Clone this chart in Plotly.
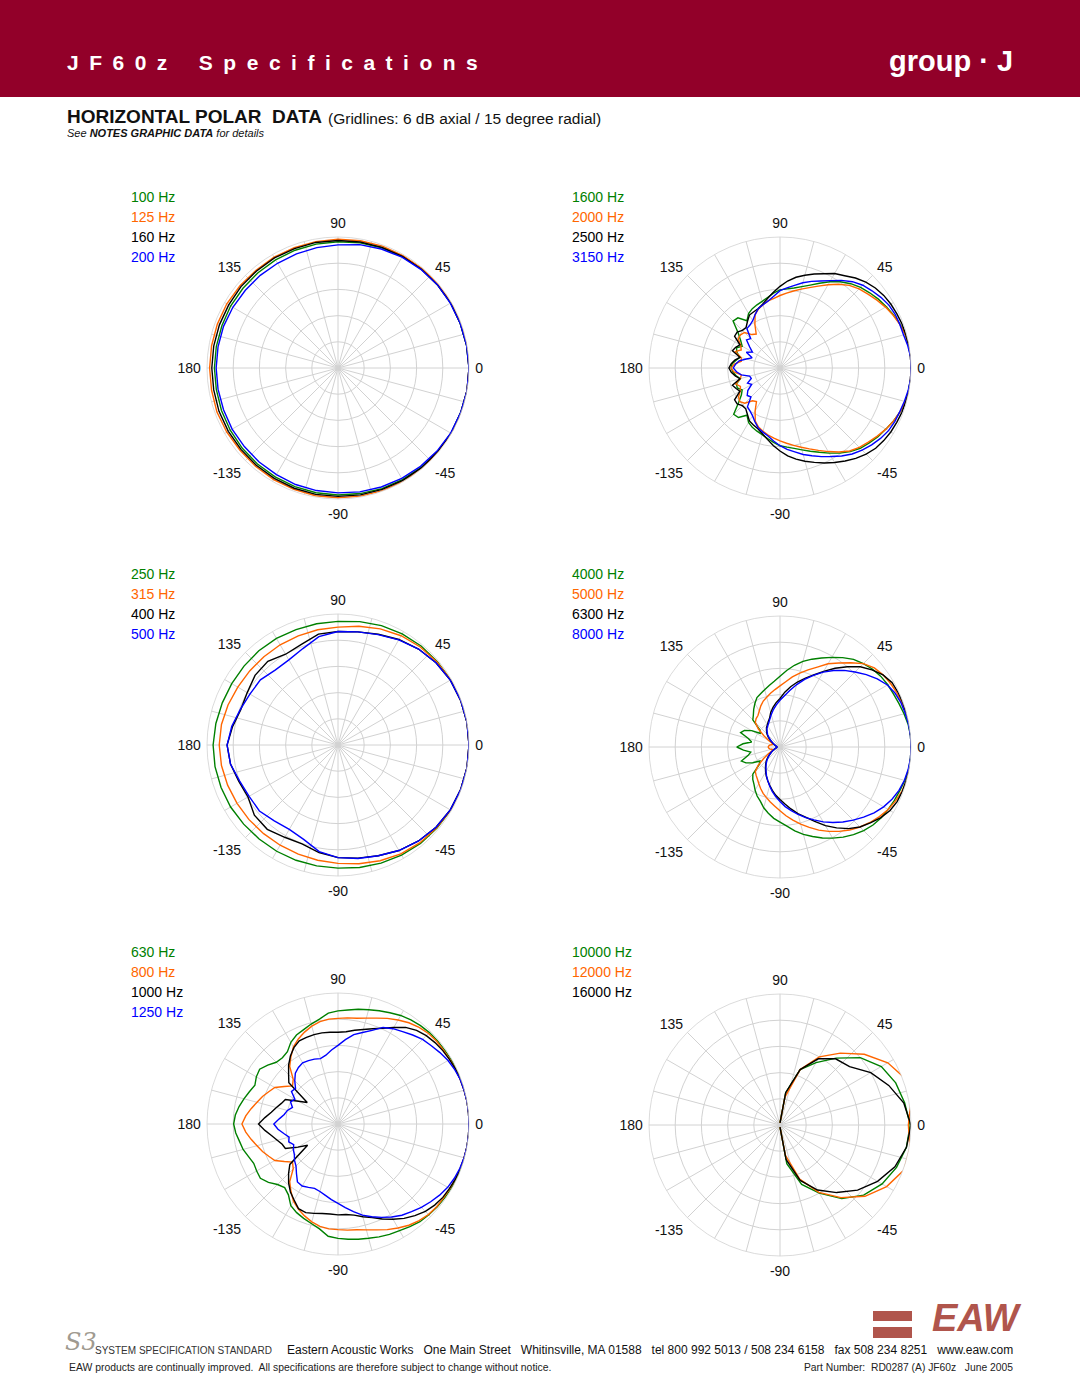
import plotly.graph_objects as go

# ---------------- angle grids (degrees, counter-clockwise, 0 = on-axis) -------------
THETA_10 = list(range(0, 360, 10))
THETA_5 = list(range(0, 360, 5))
THETA_FRONT = list(range(-90, 100, 10))

ANGLE_TICKS = list(range(0, 360, 15))
ANGLE_LABELS = {0: "0", 45: "45", 90: "90", 135: "135", 180: "180",
                225: "-135", 270: "-90", 315: "-45"}
RING_TICKS = [-24, -18, -12, -6]   # 6 dB rings, outer edge = 0 dB, centre = -30 dB

GREEN, ORANGE, BLACK, BLUE = "#008000", "#ff6600", "#000000", "#0000ff"

# ---------------- panel 1 : 100 - 200 Hz (10 deg steps) ----------------
p1_labels = ["100 Hz", "125 Hz", "160 Hz", "200 Hz"]
p1_100 = [0.0, -0.1, -0.2, -0.2, -0.3, -0.3, -0.5, -0.7, -0.9, -1.1,
          -1.2, -1.3, -1.4, -1.5, -1.6, -1.6, -1.7, -1.7, -1.7, -1.7,
          -1.6, -1.5, -1.4, -1.3, -1.2, -1.1, -1.0, -0.9, -0.8, -0.6,
          -0.5, -0.3, -0.2, -0.1, -0.1, 0.0]
p1_125 = [0.0, 0.0, -0.1, 0.0, -0.1, -0.2, -0.3, -0.3, -0.4, -0.5,
          -0.6, -0.7, -0.7, -0.8, -0.7, -0.6, -0.6, -0.6, -0.6, -0.6,
          -0.5, -0.6, -0.7, -0.6, -0.5, -0.4, -0.3, -0.3, -0.2, -0.1,
          0.0, 0.0, -0.1, 0.0, 0.0, 0.0]
p1_160 = [0.0, -0.1, -0.2, -0.2, -0.3, -0.4, -0.5, -0.6, -0.7, -0.8,
          -0.8, -0.9, -0.9, -1.0, -1.0, -1.1, -1.1, -1.1, -1.1, -1.1,
          -1.0, -1.0, -1.0, -0.9, -0.8, -0.7, -0.6, -0.6, -0.5, -0.4,
          -0.3, -0.2, -0.2, -0.1, -0.1, 0.0]
p1_200 = [0.0, -0.1, -0.2, -0.3, -0.3, -0.5, -0.7, -1.0, -1.3, -1.8,
          -2.0, -2.2, -2.3, -2.3, -2.3, -2.2, -2.1, -2.1, -2.1, -2.1,
          -2.1, -2.0, -2.0, -1.9, -1.8, -1.6, -1.5, -1.4, -1.2, -1.0,
          -0.8, -0.6, -0.4, -0.2, -0.1, 0.0]

# ---------------- panel 2 : 1600 - 3150 Hz (5 deg steps) ----------------
p2_labels = ["1600 Hz", "2000 Hz", "2500 Hz", "3150 Hz"]
p2_1600 = [0.0, 0.0, -0.1, -0.3, -0.7, -1.3, -1.9, -2.5, -3.2, -3.9,
           -4.8, -5.9, -7.2, -8.6, -9.8, -10.7, -11.4, -11.8, -12.1, -12.8,
           -13.6, -14.2, -14.6, -15.0, -15.6, -16.8, -15.0, -14.8, -17.5, -19.0,
           -20.0, -19.0, -19.5, -20.5, -19.8, -19.0, -18.8,
           -19.2, -19.8, -20.6, -19.4, -19.2, -20.0, -19.2, -17.6, -15.0, -15.2,
           -16.8, -15.6, -15.0, -14.6, -14.2, -13.6, -12.9, -12.2, -11.8, -11.3,
           -10.6, -9.7, -8.7, -7.5, -6.2, -5.0, -4.0, -3.3, -2.6, -2.0,
           -1.3, -0.7, -0.3, -0.1, 0.0]
p2_2000 = [0.0, 0.0, 0.0, -0.3, -0.8, -1.4, -2.1, -2.9, -3.7, -4.4,
           -5.3, -6.6, -8.0, -9.3, -10.4, -11.3, -12.1, -12.8, -13.4, -14.0,
           -14.4, -15.0, -15.6, -16.5, -18.5, -20.5, -20.0, -18.5, -18.2, -18.3,
           -19.6, -20.2, -19.0, -20.8, -21.0, -19.5, -18.8,
           -19.4, -21.0, -20.6, -19.2, -20.0, -19.5, -18.4, -18.0, -18.6, -20.2,
           -20.6, -18.6, -16.6, -15.6, -15.0, -14.4, -13.9, -13.3, -12.7, -12.0,
           -11.2, -10.3, -9.2, -7.9, -6.5, -5.2, -4.3, -3.6, -2.8, -2.0,
           -1.3, -0.7, -0.3, 0.0, 0.0]
p2_2500 = [0.0, 0.0, -0.1, -0.2, -0.3, -0.5, -0.7, -1.0, -1.5, -2.2,
           -3.1, -4.2, -5.0, -6.2, -7.1, -8.0, -8.9, -10.0, -11.3, -12.6,
           -13.8, -14.8, -15.5, -15.8, -16.0, -17.0, -17.9, -17.8, -17.2, -17.3,
           -19.4, -18.8, -18.4, -20.5, -19.5, -18.8, -18.3,
           -18.8, -19.6, -20.5, -18.4, -18.9, -19.4, -17.3, -17.2, -17.8, -17.8,
           -17.0, -16.0, -15.6, -15.2, -14.4, -13.4, -12.2, -11.0, -9.8, -8.8,
           -7.9, -7.0, -6.0, -5.0, -4.0, -3.0, -2.1, -1.4, -1.0, -0.7,
           -0.5, -0.3, -0.2, -0.1, 0.0]
p2_3150 = [0.0, 0.0, -0.3, -0.7, -0.8, -0.9, -1.2, -1.8, -2.5, -3.2,
           -4.2, -5.5, -6.9, -8.0, -8.9, -9.8, -10.8, -11.6, -12.3, -13.5,
           -14.4, -15.0, -15.5, -16.5, -17.5, -18.0, -18.2, -20.5, -20.0, -21.5,
           -22.7, -21.5, -23.2, -22.0, -20.5, -19.8, -19.3,
           -20.0, -21.0, -22.8, -23.0, -21.8, -22.5, -21.0, -20.2, -20.6, -18.4,
           -18.0, -17.4, -16.4, -15.4, -14.8, -14.2, -13.2, -12.2, -11.3, -10.5,
           -9.5, -8.6, -7.6, -6.6, -5.4, -4.3, -3.4, -2.6, -1.9, -1.3,
           -1.0, -0.8, -0.5, -0.2, 0.0]

# ---------------- panel 3 : 250 - 500 Hz (10 deg steps) ----------------
p3_labels = ["250 Hz", "315 Hz", "400 Hz", "500 Hz"]
p3_250 = [0.0, 0.0, -0.1, -0.2, -0.3, -0.4, -0.6, -0.9, -1.3, -1.7,
          -1.8, -1.9, -1.8, -1.8, -1.9, -1.9, -1.8, -1.6, -1.4, -1.4,
          -1.5, -1.6, -1.8, -1.9, -1.9, -1.9, -1.9, -1.8, -1.5, -1.2,
          -0.9, -0.6, -0.4, -0.2, -0.1, 0.0]
p3_315 = [0.0, 0.0, -0.1, -0.2, -0.4, -0.7, -1.1, -1.7, -2.4, -3.0,
          -3.2, -3.4, -3.5, -3.6, -3.6, -3.5, -3.2, -2.9, -2.8, -2.9,
          -3.1, -3.3, -3.4, -3.5, -3.5, -3.4, -3.2, -2.9, -2.4, -1.8,
          -1.2, -0.8, -0.5, -0.2, -0.1, 0.0]
p3_400 = [0.0, 0.0, -0.1, -0.3, -0.7, -1.3, -2.1, -3.0, -3.7, -4.0,
          -4.2, -5.5, -6.0, -5.0, -5.2, -6.0, -6.3, -5.5, -4.6, -5.0,
          -5.8, -6.2, -5.0, -4.8, -5.6, -5.9, -5.0, -4.2, -3.7, -3.0,
          -2.1, -1.3, -0.7, -0.3, -0.1, 0.0]
p3_500 = [0.0, 0.0, -0.1, -0.3, -0.7, -1.3, -2.2, -3.1, -3.7, -4.0,
          -4.8, -6.5, -7.5, -7.6, -6.8, -6.7, -6.2, -5.3, -4.6, -5.0,
          -6.0, -6.5, -6.5, -7.3, -7.7, -7.0, -5.2, -4.2, -3.6, -3.0,
          -2.1, -1.3, -0.7, -0.3, -0.1, 0.0]

# ---------------- panel 4 : 4000 - 8000 Hz (5 deg steps) ----------------
p4_labels = ["4000 Hz", "5000 Hz", "6300 Hz", "8000 Hz"]
p4_4000 = [0.0, 0.0, -0.2, -0.6, -1.0, -1.3, -1.5, -1.8, -2.3, -3.0,
           -3.8, -5.0, -6.3, -7.5, -8.6, -9.7, -11.0, -12.4, -13.8, -14.9,
           -15.7, -16.4, -17.0, -17.5, -18.5, -19.5, -20.5, -21.2, -24.0, -24.6,
           -22.5, -21.0, -20.4, -22.5, -23.4, -21.5, -20.1,
           -21.6, -23.2, -22.4, -20.6, -21.4, -22.8, -24.4, -23.8, -21.2, -20.3,
           -19.6, -18.6, -17.6, -16.8, -15.6, -14.6, -13.6,
           -12.8, -11.8, -10.5, -9.3, -8.2, -7.0, -5.9, -4.8, -3.8, -2.9,
           -2.2, -1.7, -1.4, -1.1, -0.8, -0.4, -0.1, 0.0]
p4_5000 = [0.3, 0.4, 0.3, 0.0, -0.3, -0.5, -0.8, -1.2, -1.8, -3.0,
           -4.8, -6.5, -8.0, -9.8, -11.2, -12.5, -13.7, -15.0, -16.0, -16.8,
           -17.5, -18.2, -18.8, -19.6, -20.5, -21.2, -21.5, -22.0, -23.5, -25.5,
           -27.0, -28.0, -28.2, -28.0, -27.6, -27.4, -27.3,
           -27.4, -27.6, -28.0, -28.2, -28.0, -27.0, -25.5, -23.5, -22.0, -21.5,
           -21.0, -20.3, -19.5, -18.7, -18.0, -17.2, -16.4,
           -15.4, -14.2, -13.0, -11.7, -10.4, -9.0, -7.7, -6.4, -5.2, -4.1,
           -3.1, -2.2, -1.4, -0.8, -0.3, 0.0, 0.2, 0.3]
p4_6300 = [0.0, 0.0, 0.0, -0.1, -0.1, -0.2, -0.4, -1.2, -2.5, -4.0,
           -6.0, -8.0, -10.0, -11.8, -13.3, -14.6, -16.0, -17.4, -18.9, -19.8,
           -20.8, -21.8, -23.0, -23.6, -24.2, -24.6, -25.2, -25.8, -26.5, -27.3,
           -28.0, -28.4, -28.8, -29.0, -29.2, -29.3, -29.3,
           -29.3, -29.2, -29.0, -28.7, -28.3, -27.8, -27.2, -26.4, -25.6, -24.9,
           -24.2, -23.4, -22.6, -21.8, -20.9, -19.9, -18.9,
           -18.0, -16.9, -15.6, -14.2, -12.9, -11.2, -9.2, -7.4, -5.6, -4.1,
           -3.0, -1.8, -0.9, -0.4, -0.2, -0.1, 0.0, 0.0]
p4_8000 = [0.0, 0.0, -0.1, -0.3, -0.5, -0.9, -1.6, -2.8, -4.2, -5.7,
           -7.1, -8.6, -10.2, -11.9, -13.5, -15.2, -16.8, -18.2, -19.3, -20.3,
           -21.3, -22.3, -23.2, -23.9, -24.4, -24.8, -25.4, -26.0, -26.7, -27.4,
           -28.0, -28.5, -28.8, -29.0, -29.2, -29.3, -29.3,
           -29.3, -29.2, -29.0, -28.7, -28.3, -27.8, -27.2, -26.5, -25.8, -25.1,
           -24.4, -23.6, -22.7, -21.8, -20.8, -19.7, -18.6,
           -17.5, -16.3, -15.2, -14.0, -12.8, -11.6, -10.2, -8.9, -7.6, -6.3,
           -5.0, -3.7, -2.6, -1.7, -1.0, -0.5, -0.2, 0.0]

# ---------------- panel 5 : 630 - 1250 Hz (5 deg steps) ----------------
p5_labels = ["630 Hz", "800 Hz", "1000 Hz", "1250 Hz"]
p5_630 = [0.0, 0.0, 0.0, 0.0, -0.1, -0.1, -0.2, -0.3, -0.3, -0.4,
          -0.6, -0.9, -1.3, -1.9, -2.4, -2.9, -3.3, -3.8, -4.1, -4.5,
          -5.6, -6.3, -7.0, -7.5, -8.4, -9.8, -10.2, -10.0, -9.0, -8.1,
          -8.4, -9.0, -8.4, -7.7, -7.0, -6.4, -6.1,
          -6.5, -7.1, -7.5, -8.2, -8.7, -8.5, -8.3, -9.2, -10.4, -11.0,
          -10.2, -8.4, -7.6, -7.0, -6.4, -5.6, -4.2, -3.8, -3.5, -3.2,
          -2.9, -2.5, -2.1, -1.8, -1.3, -0.8, -0.6, -0.4, -0.3, -0.2,
          -0.1, 0.0, 0.0, 0.0, 0.0]
p5_800 = [0.0, 0.0, 0.0, -0.1, -0.2, -0.3, -0.4, -0.5, -0.5, -0.7,
          -1.1, -1.7, -2.5, -3.3, -4.2, -4.9, -5.4, -5.6, -5.8, -5.9,
          -6.2, -6.8, -7.6, -8.5, -9.6, -11.2, -12.8, -15.5, -16.4, -15.0,
          -13.3, -12.5, -11.6, -10.8, -9.8, -8.8, -8.0,
          -8.8, -9.8, -10.8, -11.6, -12.5, -13.3, -15.0, -16.4, -15.5, -12.8,
          -11.2, -9.6, -8.5, -7.6, -6.8, -6.2, -5.9, -5.8, -5.6, -5.4,
          -4.9, -4.2, -3.3, -2.5, -1.7, -1.1, -0.7, -0.5, -0.5, -0.4,
          -0.3, -0.2, -0.1, 0.0, 0.0]
p5_1000 = [0.0, 0.0, 0.0, -0.1, -0.2, -0.3, -0.5, -0.7, -1.0, -1.4,
           -2.0, -3.0, -4.5, -5.8, -6.8, -7.6, -8.2, -8.8, -9.0, -8.9,
           -8.8, -8.8, -8.9, -9.0, -9.8, -11.0, -12.4, -14.0, -15.3, -21.4,
           -19.6, -16.7, -16.2, -15.4, -14.5, -13.2, -11.8,
           -13.2, -14.6, -15.6, -16.4, -16.7, -19.4, -21.5, -15.6, -14.0, -12.4,
           -11.0, -9.9, -8.6, -8.4, -8.8, -9.2, -9.3, -9.2, -9.2, -8.8,
           -8.0, -7.2, -6.0, -4.8, -3.6, -2.6, -1.7, -1.1, -0.7, -0.5,
           -0.3, -0.2, -0.1, 0.0, 0.0]
p5_1250 = [0.0, 0.0, 0.0, -0.1, -0.2, -0.5, -0.9, -1.5, -2.1, -2.6,
           -3.4, -4.2, -4.8, -5.6, -7.2, -8.3, -9.2, -10.6, -12.0, -13.0,
           -14.0, -14.5, -14.2, -14.0, -13.8, -14.2, -14.8, -16.0, -17.3, -17.0,
           -18.6, -18.0, -18.9, -18.0, -17.5, -16.5, -15.3,
           -16.2, -17.4, -18.4, -18.0, -18.8, -18.2, -17.8, -17.0, -16.4, -15.2,
           -13.8, -13.6, -14.0, -14.3, -14.0, -13.4, -12.6, -11.8, -10.8, -9.6,
           -8.4, -7.4, -6.4, -5.4, -4.5, -3.8, -3.0, -2.3, -1.6, -1.0,
           -0.6, -0.3, -0.1, 0.0, 0.0]

# ---------------- panel 6 : 10 - 16 kHz (front half, 10 deg steps, -90..90) -------
p6_labels = ["10000 Hz", "12000 Hz", "16000 Hz"]
p6_10000 = [-29.5, -21.0, -15.5, -12.0, -8.0, -5.0, -3.0, -1.6, -0.6, -0.2,
            -1.0, -1.8, -3.2, -6.0, -10.0, -13.5, -16.5, -22.5, -29.5]
p6_12000 = [-29.5, -23.0, -16.8, -12.2, -8.3, -4.6, -1.8, 0.2, 0.2, -0.6,
            0.4, 0.7, -1.5, -4.8, -8.5, -12.0, -16.5, -23.5, -29.5]
p6_16000 = [-29.5, -22.0, -16.5, -12.8, -9.8, -6.8, -4.2, -2.0, -0.6, 0.0,
            -1.2, -3.5, -6.0, -9.2, -10.2, -12.5, -16.5, -22.5, -29.5]

PANELS = [
    dict(theta=THETA_10, labels=p1_labels, series=[p1_100, p1_125, p1_160, p1_200],
         colors=[GREEN, ORANGE, BLACK, BLUE], center=(338, 368), legend=(129, 197)),
    dict(theta=THETA_5, labels=p2_labels, series=[p2_1600, p2_2000, p2_2500, p2_3150],
         colors=[GREEN, ORANGE, BLACK, BLUE], center=(780, 368), legend=(570, 197)),
    dict(theta=THETA_10, labels=p3_labels, series=[p3_250, p3_315, p3_400, p3_500],
         colors=[GREEN, ORANGE, BLACK, BLUE], center=(338, 745), legend=(129, 574)),
    dict(theta=THETA_5, labels=p4_labels, series=[p4_4000, p4_5000, p4_6300, p4_8000],
         colors=[GREEN, ORANGE, BLACK, BLUE], center=(780, 747), legend=(570, 574)),
    dict(theta=THETA_5, labels=p5_labels, series=[p5_630, p5_800, p5_1000, p5_1250],
         colors=[GREEN, ORANGE, BLACK, BLUE], center=(338, 1124), legend=(129, 952)),
    dict(theta=THETA_FRONT, labels=p6_labels, series=[p6_10000, p6_12000, p6_16000],
         colors=[GREEN, ORANGE, BLACK], center=(780, 1125), legend=(570, 952)),
]

W, H = 1080, 1397
R = 131
GRID = "#d2d2d2"
FONT = "Liberation Sans, Arial, Helvetica, sans-serif"


def px(x):
    return x / W


def py(y):
    return 1 - y / H


fig = go.Figure()
layout_polars = {}
annotations = []

for i, panel in enumerate(PANELS):
    key = "polar" if i == 0 else f"polar{i + 1}"
    closed = panel["theta"] is not THETA_FRONT
    for vals, col, name in zip(panel["series"], panel["colors"], panel["labels"]):
        th = list(panel["theta"])
        rr = list(vals)
        if closed:
            th = th + [th[0] + 360]
            rr = rr + [rr[0]]
        fig.add_trace(go.Scatterpolar(
            theta=th, r=rr, mode="lines", name=name, subplot=key,
            line=dict(color=col, width=1.4), cliponaxis=False, showlegend=False,
        ))
    cx, cy = panel["center"]
    layout_polars[key] = dict(
        domain=dict(x=[px(cx - R), px(cx + R)], y=[py(cy + R), py(cy - R)]),
        bgcolor="rgba(0,0,0,0)",
        radialaxis=dict(range=[-30, 0], tickmode="array", tickvals=RING_TICKS,
                        showticklabels=False, ticks="", showline=False,
                        gridcolor=GRID, gridwidth=0.8),
        angularaxis=dict(tickmode="array", tickvals=ANGLE_TICKS,
                         ticktext=[ANGLE_LABELS.get(a, "") for a in ANGLE_TICKS],
                         direction="counterclockwise", rotation=0,
                         gridcolor=GRID, gridwidth=0.8,
                         showline=True, linecolor=GRID, linewidth=0.8,
                         ticks="outside", ticklen=3, tickcolor="rgba(0,0,0,0)",
                         tickfont=dict(family=FONT, size=14, color="#111111")),
    )
    lx, ly = panel["legend"]
    for j, (name, col) in enumerate(zip(panel["labels"], panel["colors"])):
        annotations.append(dict(
            x=px(lx), y=py(ly + 20 * j), xanchor="left", yanchor="middle",
            text=name, font=dict(family=FONT, size=14, color=col)))

# ---------------- header / titles / footer text ----------------
TITLE = "\u2002".join("JF60z") + "\u2002\u2002\u2002" + "\u2002".join("Specifications")
annotations += [
    dict(x=px(65), y=py(63), text=TITLE, xanchor="left", yanchor="middle",
         font=dict(family=FONT, size=21, color="white", weight="bold")),
    dict(x=px(1015), y=py(61), text="group\u00a0·\u00a0J", xanchor="right", yanchor="middle",
         font=dict(family=FONT, size=29, color="white", weight="bold")),
    dict(x=px(65), y=py(117), text="HORIZONTAL POLAR\u00a0 DATA", xanchor="left",
         yanchor="middle", font=dict(family=FONT, size=19, color="#111111", weight="bold")),
    dict(x=px(326), y=py(118), text="(Gridlines: 6 dB axial / 15 degree radial)",
         xanchor="left", yanchor="middle", font=dict(family=FONT, size=15.5, color="#111111")),
    dict(x=px(65), y=py(133), text="<i>See <b>NOTES GRAPHIC DATA</b> for details</i>",
         xanchor="left", yanchor="middle", font=dict(family=FONT, size=11, color="#111111")),
    dict(x=px(63), y=py(1342), text="<i>S3</i>", xanchor="left", yanchor="middle",
         font=dict(family="DejaVu Serif, serif", size=24, color="#a09a90")),
    dict(x=px(93), y=py(1350), text="SYSTEM SPECIFICATION STANDARD", xanchor="left",
         yanchor="middle", font=dict(family=FONT, size=10, color="#333333")),
    dict(x=px(1015), y=py(1350),
         text="Eastern Acoustic Works\u00a0\u00a0 One Main Street\u00a0\u00a0 Whitinsville, MA 01588"
              "\u00a0\u00a0 tel 800 992 5013 / 508 234 6158\u00a0\u00a0 fax 508 234 8251\u00a0\u00a0 www.eaw.com",
         xanchor="right", yanchor="middle", font=dict(family=FONT, size=12, color="#111111")),
    dict(x=px(67), y=py(1367),
         text="EAW products are continually improved.\u00a0 All specifications are therefore subject to change without notice.",
         xanchor="left", yanchor="middle", font=dict(family=FONT, size=10.4, color="#222222")),
    dict(x=px(1015), y=py(1367), text="Part Number:\u00a0 RD0287 (A) JF60z\u00a0\u00a0 June 2005",
         xanchor="right", yanchor="middle", font=dict(family=FONT, size=10.3, color="#222222")),
    dict(x=px(1024), y=py(1341), text="<b><i>EAW</i></b>", xanchor="right", yanchor="bottom",
         font=dict(family=FONT, size=38, color="#b0554c")),
]
for a in annotations:
    a.setdefault("xref", "paper")
    a.setdefault("yref", "paper")
    a.setdefault("showarrow", False)

shapes = [
    dict(type="rect", xref="paper", yref="paper", x0=0, x1=1, y0=py(97), y1=1,
         fillcolor="#920029", line=dict(width=0), layer="below"),
    dict(type="rect", xref="paper", yref="paper", x0=px(873), x1=px(912), y0=py(1321), y1=py(1311),
         fillcolor="#b0554c", line=dict(width=0)),
    dict(type="rect", xref="paper", yref="paper", x0=px(873), x1=px(912), y0=py(1338), y1=py(1327),
         fillcolor="#b0554c", line=dict(width=0)),
]

fig.update_layout(
    width=W, height=H, margin=dict(l=0, r=0, t=0, b=0),
    paper_bgcolor="white", plot_bgcolor="white",
    showlegend=False, annotations=annotations, shapes=shapes,
    font=dict(family=FONT, color="#111111"),
    **layout_polars,
)

fig.write_html("out.html")
